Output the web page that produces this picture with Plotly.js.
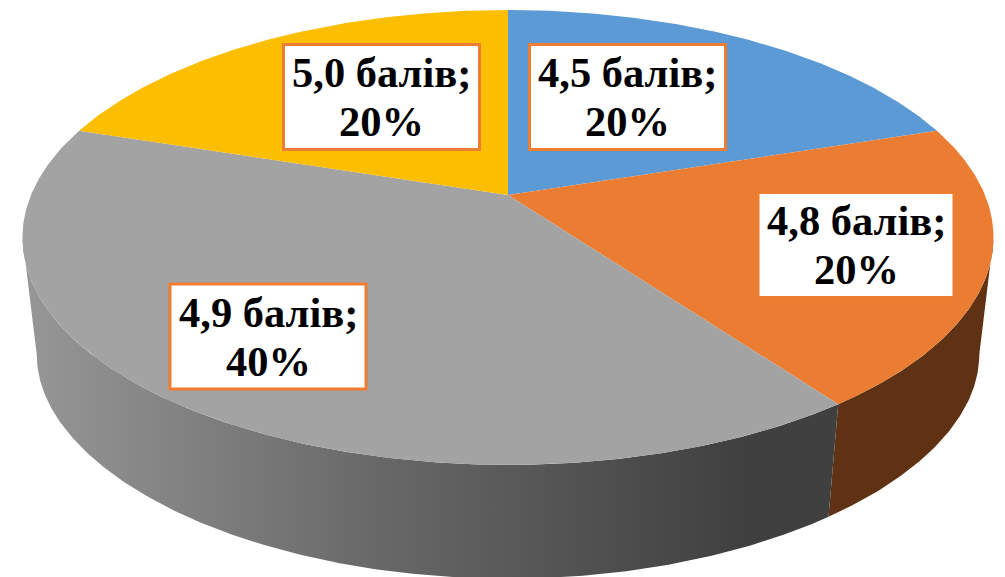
<!DOCTYPE html>
<html>
<head>
<meta charset="utf-8">
<script src="https://cdn.plot.ly/plotly-3.0.1.min.js"></script>
<style>html,body{margin:0;padding:0;background:#fff;overflow:hidden}#chart{width:1005px;height:577px}</style>
</head>
<body>
<div id="chart"></div>
<script>
// Data
const categories = ['4,5 балів', '4,8 балів', '4,9 балів', '5,0 балів'];
const shares = [20, 20, 40, 20];
const faceColors = ['#5b9ad5', '#eb7d33', '#a3a3a3', '#fbbe00'];
const labelCentersX = [627.5, 856, 268, 381.5];
const labelCentersY = [97, 245, 336.5, 97];
const labelBorder = '#ed7d31';

// Perspective projection of the pie disc
const K = 0.1866;
const topFace = {cx: 508, cy: 195, a: 477, b: 219.5, ky: K};
const lowFace = {cx: 508, cy: 315, a: 463, b: 203, ky: 0.23};
const silR = Math.acos(-K) * 180 / Math.PI;   // right silhouette angle
const silL = 360 - silR;                      // left silhouette angle

function project(f, deg) {
  const t = deg * Math.PI / 180, u = Math.sin(t), v = Math.cos(t);
  return [f.cx + f.a * u / (1 + K * v), f.cy - f.b * v / (1 + f.ky * v)];
}
function arc(f, from, to) {
  const pts = [], n = Math.max(2, Math.ceil(Math.abs(to - from) * 2));
  for (let i = 0; i <= n; i++) pts.push(project(f, from + (to - from) * i / n));
  return pts;
}
const total = shares.reduce((a, b) => a + b, 0);
let acc = 0;
const wedges = shares.map(s => { const w = [acc / total * 360, (acc + s) / total * 360]; acc += s; return w; });

function poly(pts, extra) {
  return Object.assign({
    type: 'scatter', mode: 'lines', x: pts.map(p => p[0]), y: pts.map(p => p[1]),
    fill: 'toself', line: {width: 0}, hoverinfo: 'skip', showlegend: false
  }, extra);
}

const traces = [];
// Side walls of the slices facing the viewer
wedges.forEach((w, i) => {
  const a = Math.max(w[0], silR), b = Math.min(w[1], silL);
  if (a >= b) return;
  const pts = arc(topFace, a, b).concat(arc(lowFace, b, a));
  if (i === 1) {
    traces.push(poly(pts, {fillcolor: '#5f3214'}));
  } else if (i === 2) {
    traces.push(poly(pts, {fillgradient: {
      type: 'horizontal', start: 30, stop: 840,
      colorscale: [[0, '#969696'], [0.43, '#686868'], [0.88, '#404040'], [1, '#404040']]
    }}));
  }
});
// Top faces
wedges.forEach((w, i) => {
  const pts = [[topFace.cx, topFace.cy]].concat(arc(topFace, w[0], w[1]));
  pts.push([topFace.cx, topFace.cy]);
  traces.push(poly(pts, {fillcolor: faceColors[i]}));
});

// Label boxes and their two text lines
const boxW = 196, boxH = 105, lineGap = 49;
const font = {family: 'Liberation Serif, Times New Roman, serif', size: 42.5, color: '#000', weight: 700};
const shapes = categories.map((c, i) => ({
  type: 'rect', layer: 'above', xref: 'x', yref: 'y',
  x0: labelCentersX[i] - boxW / 2, x1: labelCentersX[i] + boxW / 2,
  y0: labelCentersY[i] - boxH / 2, y1: labelCentersY[i] + boxH / 2,
  fillcolor: '#fff', line: {color: labelBorder, width: 3}
}));
const annotations = [];
categories.forEach((c, i) => {
  const common = {xref: 'x', yref: 'y', x: labelCentersX[i], xanchor: 'center', yanchor: 'middle',
                  showarrow: false, font: font, align: 'center'};
  annotations.push(Object.assign({}, common, {y: labelCentersY[i] - lineGap / 2, text: c + ';'}));
  annotations.push(Object.assign({}, common, {y: labelCentersY[i] + lineGap / 2, text: shares[i] + '%'}));
});

Plotly.newPlot('chart', traces, {
  width: 1005, height: 577,
  margin: {l: 0, r: 0, t: 0, b: 0},
  paper_bgcolor: '#fff', plot_bgcolor: '#fff',
  xaxis: {visible: false, range: [0, 1005], fixedrange: true},
  yaxis: {visible: false, range: [577, 0], fixedrange: true},
  showlegend: false, hovermode: false,
  shapes: shapes, annotations: annotations
}, {displayModeBar: false, staticPlot: true});
</script>
</body>
</html>
